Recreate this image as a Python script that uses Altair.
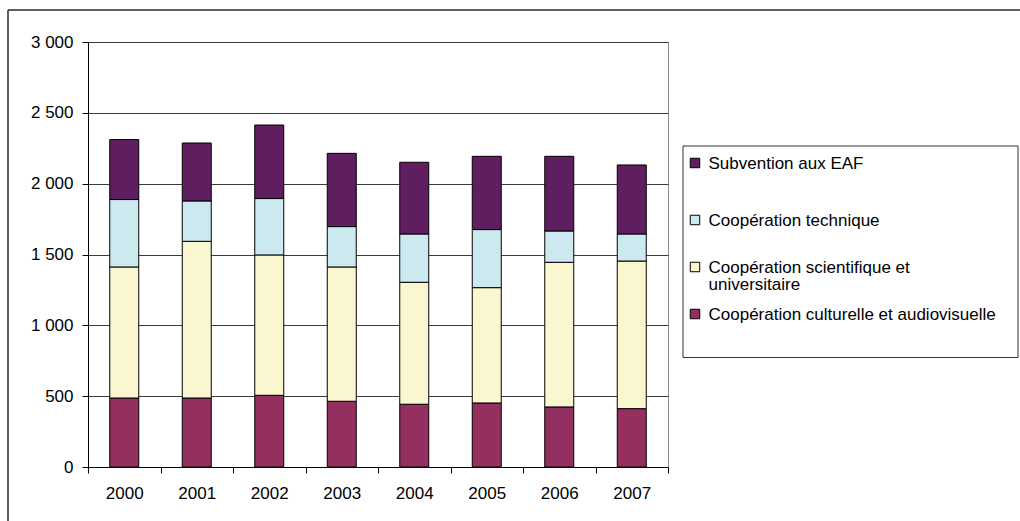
import altair as alt
import pandas as pd

# Budget by programme, 2000-2007
years = ["2000", "2001", "2002", "2003", "2004", "2005", "2006", "2007"]
series = [
    "Coopération culturelle et audiovisuelle",
    "Coopération scientifique et universitaire",
    "Coopération technique",
    "Subvention aux EAF",
]
culturelle = [487, 487, 506, 464, 443, 452, 424, 412]
scientifique = [925, 1106, 991, 948, 861, 814, 1021, 1042]
technique = [476, 285, 398, 285, 341, 410, 221, 191]
subvention = [423, 409, 519, 517, 506, 517, 527, 487]
y_ticks = [0, 500, 1000, 1500, 2000, 2500, 3000]

colors = ["#943060", "#FAF7D0", "#CCE9F0", "#5F1E5F"]
FONT = "Liberation Sans"

rows = []
for rank, (name, vals) in enumerate(zip(series, [culturelle, scientifique, technique, subvention])):
    for yr, v in zip(years, vals):
        rows.append({"year": yr, "serie": name, "value": v, "rank": rank})
df = pd.DataFrame(rows)

bars = alt.Chart(df).mark_bar(size=29, stroke="black", strokeWidth=1).encode(
    x=alt.X(
        "year:N",
        sort=years,
        scale=alt.Scale(paddingInner=0, paddingOuter=0),
        axis=alt.Axis(
            title=None, labelAngle=0, tickBand="extent", grid=False,
            domainColor="black", tickColor="black", tickSize=6,
            labelPadding=12, labelFont=FONT, labelFontSize=17, labelColor="black",
        ),
    ),
    y=alt.Y(
        "value:Q",
        stack="zero",
        scale=alt.Scale(domain=[0, 3000], nice=False),
        axis=alt.Axis(
            title=None, values=y_ticks, grid=True, gridColor="#3c3c3c",
            domainColor="black", tickColor="black", tickSize=6,
            labelPadding=9, labelFont=FONT, labelFontSize=17, labelColor="black",
            labelExpr="replace(format(datum.value, ','), ',', ' ')",
        ),
    ),
    color=alt.Color("serie:N", scale=alt.Scale(domain=series, range=colors), legend=None),
    order=alt.Order("rank:Q", sort="ascending"),
)

# outer frame of the chart object
frame_v = alt.Chart(alt.Data(values=[{"k": 0}])).mark_rule(color="#2b2b2b", strokeWidth=1.5).encode(
    x=alt.value(-80), y=alt.value(-32), y2=alt.value(490)
)
frame_h = alt.Chart(alt.Data(values=[{"k": 0}])).mark_rule(color="#2b2b2b", strokeWidth=1.5).encode(
    y=alt.value(-32), x=alt.value(-80), x2=alt.value(940)
)

# legend, listed top of stack first
legend_box = alt.Chart(alt.Data(values=[{"k": 0}])).mark_rect(
    fill="white", stroke="#333333", strokeWidth=1
).encode(x=alt.value(595), x2=alt.value(930), y=alt.value(104), y2=alt.value(315.5))

legend_lines = {
    "Subvention aux EAF": ["Subvention aux EAF"],
    "Coopération technique": ["Coopération technique"],
    "Coopération scientifique et universitaire": ["Coopération scientifique et", "universitaire"],
    "Coopération culturelle et audiovisuelle": ["Coopération culturelle et audiovisuelle"],
}
legend_y = [121, 178, 225, 272]
legend_layers = []
for name, yc in zip(series[::-1], legend_y):
    col = colors[series.index(name)]
    src = alt.Data(values=[{"serie": name}])
    legend_layers.append(
        alt.Chart(src).mark_square(size=90, stroke="black", strokeWidth=1, opacity=1).encode(
            x=alt.value(607), y=alt.value(yc), color=alt.value(col)
        )
    )
    lines = legend_lines[name]
    legend_layers.append(
        alt.Chart(src).mark_text(
            align="left", baseline="alphabetic", font=FONT, fontSize=17,
            color="black", lineHeight=17,
        ).encode(
            x=alt.value(620.5), y=alt.value(yc + 6),
            text=alt.value(lines if len(lines) > 1 else lines[0]),
        )
    )

chart = alt.layer(frame_v, frame_h, bars, legend_box, *legend_layers).properties(
    width=580,
    height=425,
    autosize="none",
    padding={"left": 88, "top": 42, "right": 352, "bottom": 54},
    background="white",
).configure_view(stroke="#8c8c8c", strokeWidth=1)

chart.save("out.html", embed_options={"renderer": "svg", "actions": False})
